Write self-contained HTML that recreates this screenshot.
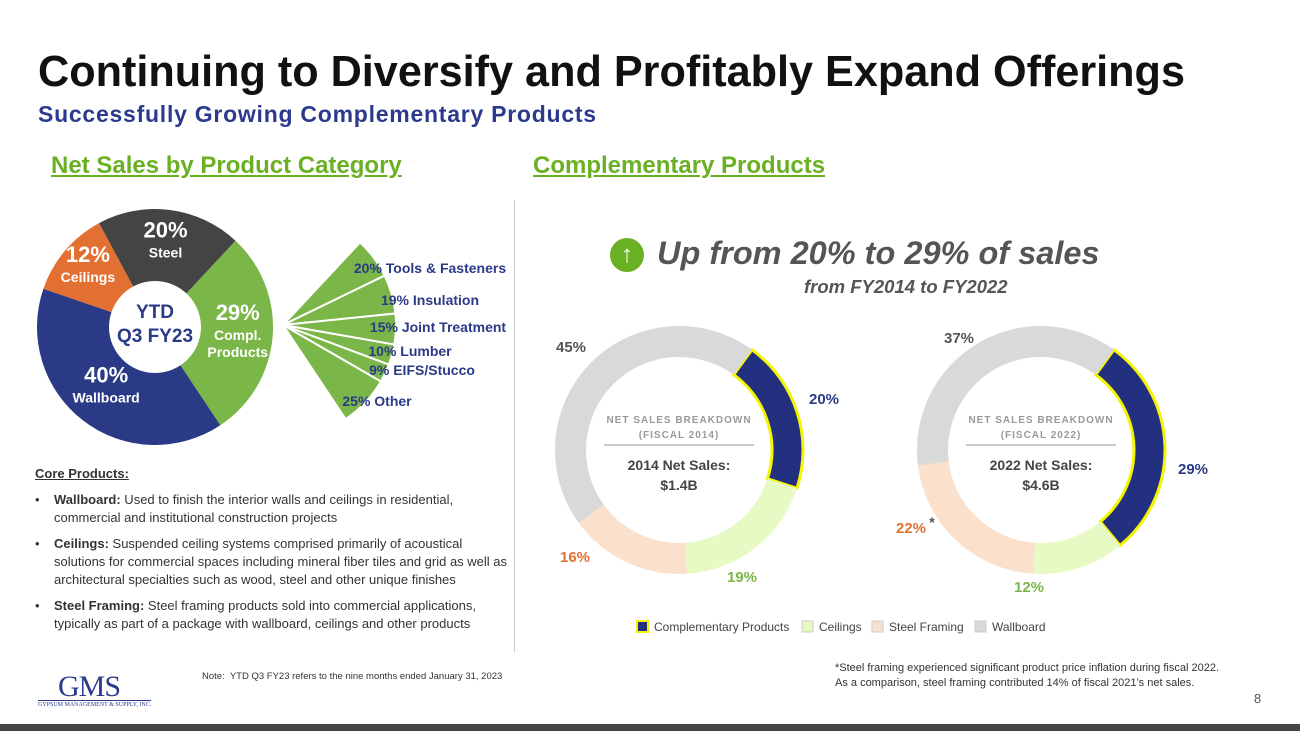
<!DOCTYPE html>
<html><head><meta charset="utf-8">
<style>
body{margin:0;width:1300px;height:731px;overflow:hidden;background:#fff;font-family:"Liberation Sans",sans-serif;position:relative}
.a{position:absolute;white-space:nowrap}
</style></head><body>
<div class="a" style="left:38px;top:48px;font-size:43.2px;font-weight:bold;color:#111">Continuing to Diversify and Profitably Expand Offerings</div>
<div class="a" style="left:38px;top:101px;font-size:23px;font-weight:bold;color:#2b3a8c;letter-spacing:0.75px">Successfully Growing Complementary Products</div>
<div class="a" style="left:51px;top:152px;font-size:24px;font-weight:bold;color:#6ab023;text-decoration:underline">Net Sales by Product Category</div>
<div class="a" style="left:533px;top:152px;font-size:24px;font-weight:bold;color:#6ab023;text-decoration:underline">Complementary Products</div>
<div class="a" style="left:514px;top:200px;width:1px;height:452px;background:#ccc"></div>

<svg class="a" style="left:0;top:0" width="1300" height="731" id="chart"></svg>

<div class="a" style="left:610px;top:238px;width:34px;height:34px;border-radius:50%;background:#6ab023;color:#fff;font-size:24px;text-align:center;line-height:34px">↑</div>
<div class="a" style="left:657px;top:235px;font-size:32.5px;font-weight:bold;font-style:italic;color:#555">Up from 20% to 29% of sales</div>
<div class="a" style="left:804px;top:276px;font-size:18.5px;font-weight:bold;font-style:italic;color:#555">from FY2014 to FY2022</div>

<div class="a" style="left:35px;top:465px;font-size:13px;color:#333;line-height:18px;white-space:normal;width:482px">
<div style="font-weight:bold;text-decoration:underline;margin-bottom:8px">Core Products:</div>
<div style="padding-left:19px;text-indent:-19px;margin-bottom:8px">•&nbsp;&nbsp;&nbsp;&nbsp;<b>Wallboard:</b> Used to finish the interior walls and ceilings in residential, commercial and institutional construction projects</div>
<div style="padding-left:19px;text-indent:-19px;margin-bottom:8px">•&nbsp;&nbsp;&nbsp;&nbsp;<b>Ceilings:</b> Suspended ceiling systems comprised primarily of acoustical solutions for commercial spaces including mineral fiber tiles and grid as well as architectural specialties such as wood, steel and other unique finishes</div>
<div style="padding-left:19px;text-indent:-19px">•&nbsp;&nbsp;&nbsp;&nbsp;<b>Steel Framing:</b> Steel framing products sold into commercial applications, typically as part of a package with wallboard, ceilings and other products</div>
</div>
<div class="a" style="left:202px;top:671px;font-size:9.5px;color:#333">Note:&nbsp; YTD Q3 FY23 refers to the nine months ended January 31, 2023</div>
<div class="a" style="left:835px;top:661px;font-size:11px;color:#333;line-height:15px">*Steel framing experienced significant product price inflation during fiscal 2022.<br>As a comparison, steel framing contributed 14% of fiscal 2021’s net sales.</div>
<div class="a" style="left:58px;top:670px;font-family:'Liberation Serif',serif;font-size:30px;color:#2b3a8c;letter-spacing:-1px">GMS</div>
<div class="a" style="left:38px;top:700px;font-family:'Liberation Serif',serif;font-size:6px;color:#2b3a8c;border-top:1px solid #2b3a8c;padding-top:1px">GYPSUM MANAGEMENT &amp; SUPPLY, INC.</div>
<div class="a" style="left:1254px;top:691px;font-size:13px;color:#555">8</div>
<div class="a" style="left:0;top:724px;width:1300px;height:7px;background:#444"></div>

<script>
const pieLabels=["Compl. Products","Wallboard","Ceilings","Steel"];
const pieValues=[29,40,12,20];
const fanLabels=["Tools & Fasteners","Insulation","Joint Treatment","Lumber","EIFS/Stucco","Other"];
const fanValues=[20,19,15,10,9,25];
const donutCats=["Complementary Products","Ceilings","Steel Framing","Wallboard"];
const donut2014=[20,19,16,45];
const donut2022=[29,12,22,37];

const NS="http://www.w3.org/2000/svg";
const svg=document.getElementById('chart');
function mk(t,a,p){const e=document.createElementNS(NS,t);for(const k in a)e.setAttribute(k,a[k]);(p||svg).appendChild(e);return e;}
function pt(cx,cy,r,deg){const a=(deg-90)*Math.PI/180;return [cx+r*Math.cos(a),cy+r*Math.sin(a)];}
function arcPath(cx,cy,r0,r1,a0,a1){
  const L=(a1-a0)>180?1:0;
  const p1=pt(cx,cy,r1,a0),p2=pt(cx,cy,r1,a1);
  if(r0<=0)return `M${cx},${cy}L${p1}A${r1},${r1} 0 ${L} 1 ${p2}Z`;
  const p3=pt(cx,cy,r0,a1),p4=pt(cx,cy,r0,a0);
  return `M${p1}A${r1},${r1} 0 ${L} 1 ${p2}L${p3}A${r0},${r0} 0 ${L} 0 ${p4}Z`;
}
function txt(x,y,s,st,name){const e=mk('text',{x:x,y:y,'text-anchor':'middle'});e.setAttribute('style',st);e.textContent=s;
  
  
  return e;}

// main pie
const pcx=155,pcy=327,pr=118;
const pieColors=["#7ab648","#2b3a86","#e27032","#444444"];
const pieSum=pieValues.reduce((a,b)=>a+b,0);
let ang=43;
const pieStarts=[];
pieValues.forEach((v,i)=>{const span=v/pieSum*360;pieStarts.push([ang,ang+span]);
  const p=mk('path',{d:arcPath(pcx,pcy,0,pr,ang,ang+span),fill:pieColors[i]});
  
  
  ang+=span;});
mk('circle',{cx:pcx,cy:pcy,r:46,fill:'#fff'});
txt(pcx,pcy-9,"YTD","font:bold 19px 'Liberation Sans';fill:#2b3a86",'pie-center-ytd');
txt(pcx,pcy+15,"Q3 FY23","font:bold 19px 'Liberation Sans';fill:#2b3a86",'pie-center-q3');
const pieLabelR=[83,80,88,82];
const pieNames=[["Compl.","Products"],["Wallboard"],["Ceilings"],["Steel"]];
pieValues.forEach((v,i)=>{const [a0,a1]=pieStarts[i];const m=(a0+a1)/2;const [x,y]=pt(pcx,pcy,pieLabelR[i],m);
  txt(x,y-8+(i==0?-6:0),v+"%","font:bold 22px 'Liberation Sans';fill:#fff",'pie-pct-'+i);
  pieNames[i].forEach((n,j)=>txt(x,y+12+j*17+(i==0?-6:0),n,"font:bold 14px 'Liberation Sans';fill:#fff",'pie-name-'+i));
});

// fan
const fx=283,fy=325,fr=113;
const fanSpan=pieValues[0]/pieSum*360;
const fanSum=fanValues.reduce((a,b)=>a+b,0);
let fa=43;
const fanLabelPos=[[430,273],[430,305],[438,332],[410,356],[422,375],[377,406]];
fanValues.forEach((v,i)=>{const s=v/fanSum*fanSpan;
  const p=mk('path',{d:arcPath(fx,fy,0,fr,fa,fa+s),fill:'#7ab648',stroke:'#fff','stroke-width':2});
  
  
  fa+=s;
  txt(fanLabelPos[i][0],fanLabelPos[i][1],v+"% "+fanLabels[i],"font:bold 14px 'Liberation Sans';fill:#2b3a86",'fan-label-'+i);
});

// donuts
const dColors=["#22307f","#e8fac3","#fbe1cc","#d9d9d9"];
function donut(cx,vals,year,total,labelPos,labelColors,name){
  const cy=450,r1=124,r0=93;
  let a=36;
  vals.forEach((v,i)=>{const s=v/100*360;
    const p=mk('path',{d:arcPath(cx,cy,r0,r1,a,a+s),fill:dColors[i]});
    if(i==0){p.setAttribute('stroke','#f5f500');p.setAttribute('stroke-width','3');}
    
    
    a+=s;});
  vals.forEach((v,i)=>{const [x,y]=labelPos[i];txt(x,y,v+"%","font:bold 15px 'Liberation Sans';fill:"+labelColors[i],name+'-label-'+i);});
  txt(cx,cy-27,"NET SALES BREAKDOWN","font:bold 10px 'Liberation Sans';fill:#999;letter-spacing:1px",name+'-caption');
  txt(cx,cy-12,"(FISCAL "+year+")","font:bold 10px 'Liberation Sans';fill:#999;letter-spacing:1px",name+'-caption-year');
  mk('line',{x1:cx-75,y1:cy-5,x2:cx+75,y2:cy-5,stroke:'#bbb','stroke-width':1.5});
  txt(cx,cy+20,year+" Net Sales:","font:bold 14px 'Liberation Sans';fill:#444",name+'-total-label');
  txt(cx,cy+40,total,"font:bold 14px 'Liberation Sans';fill:#444",name+'-total');
}
const lc=["#2b3a86","#7ab648","#e27032","#555"];
donut(679,donut2014,"2014","$1.4B",[[824,404],[742,582],[575,562],[571,352]],lc,'donut-2014');
donut(1041,donut2022,"2022","$4.6B",[[1193,474],[1029,592],[911,533],[959,343]],lc,'donut-2022');
txt(932,527,"*","font:bold 14px 'Liberation Sans';fill:#555",'asterisk');

// legend
let lx=637;
const legW=[165,70,103,80];
donutCats.forEach((c,i)=>{
  const r=mk('rect',{x:lx,y:621,width:11,height:11,fill:dColors[i],stroke:i==0?'#f5f500':'#ccc','stroke-width':i==0?2:1});
  
  
  const t=mk('text',{x:lx+17,y:631});t.setAttribute('style',"font:12px 'Liberation Sans';fill:#444");t.textContent=c;
  
  
  lx+=legW[i];
});
</script>
</body></html>
